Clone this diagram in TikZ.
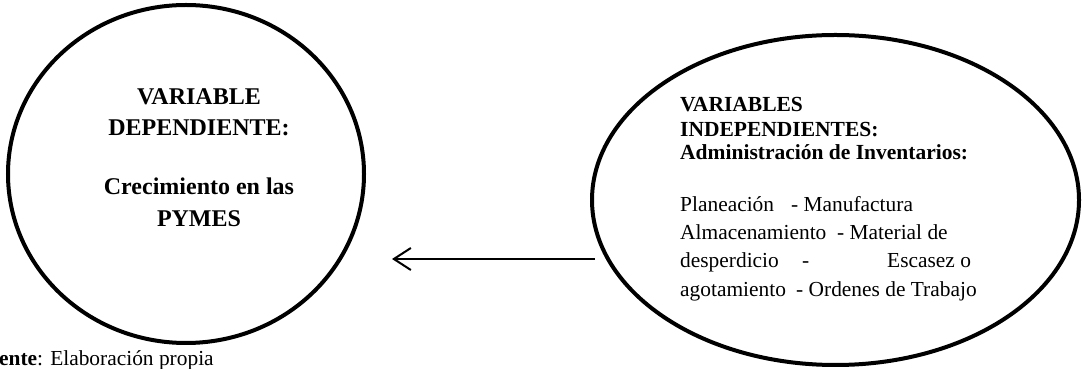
\documentclass[tikz,border=0pt]{standalone}
\usepackage{fontspec}
\setmainfont{Liberation Serif}
\usetikzlibrary{shapes.geometric,arrows.meta}
\tikzset{
  oval/.style={draw, ellipse, line width=4pt, inner sep=0pt},
  bigbold/.style={font=\fontsize{24}{28}\selectfont\bfseries, anchor=base, inner sep=0pt},
  rbold/.style={font=\fontsize{21.5}{25}\selectfont\bfseries, anchor=base west, inner sep=0pt},
  rtext/.style={font=\fontsize{21.4}{25}\selectfont, anchor=base west, inner sep=0pt},
  arr/.style={line width=2pt, -{Straight Barb[length=17pt,width=22pt,line width=2pt]}}
}
\begin{document}
\begin{tikzpicture}[x=1pt,y=1pt]
\useasboundingbox (0,0) rectangle (1083,369);
% ellipses
\node[oval, minimum width=356pt, minimum height=338pt] (L) at (186,195) {};
\node[oval, minimum width=487pt, minimum height=330pt] (R) at (835.5,169) {};
% left text
\node[bigbold] (l1) at (199,264) {VARIABLE};
\node[bigbold] (l2) at (199,233) {DEPENDIENTE:};
\node[bigbold] (l3) at (199,174) {Crecimiento en las};
\node[bigbold] (l4) at (199,142) {PYMES};
% right text
\node[rbold] (r1) at (680,257) {VARIABLES};
\node[rbold] (r2) at (680,232) {INDEPENDIENTES:};
\node[rbold] (r3) at (680,209) {Administración de Inventarios:};
\node[rtext] (r4a) at (680,157) {Planeación};
\node[rtext] (r4b) at (791,157) {- Manufactura};
\node[rtext] (r5a) at (680,129) {Almacenamiento};
\node[rtext] (r5b) at (837,129) {- Material de};
\node[rtext] (r6a) at (680,101) {desperdicio};
\node[rtext] (r6b) at (802,101) {-};
\node[rtext] (r6c) at (887,101) {Escasez o};
\node[rtext] (r7a) at (680,72) {agotamiento};
\node[rtext] (r7b) at (796,72) {- Ordenes de Trabajo};
% arrow
\coordinate (as) at (595,110);
\coordinate (ae) at (392,110);
\draw[arr] (as) -- (ae);
% source
\node[rtext] (src) at (-26,3) {\textbf{Fuente}: Elaboración propia};
\end{tikzpicture}
\end{document}
